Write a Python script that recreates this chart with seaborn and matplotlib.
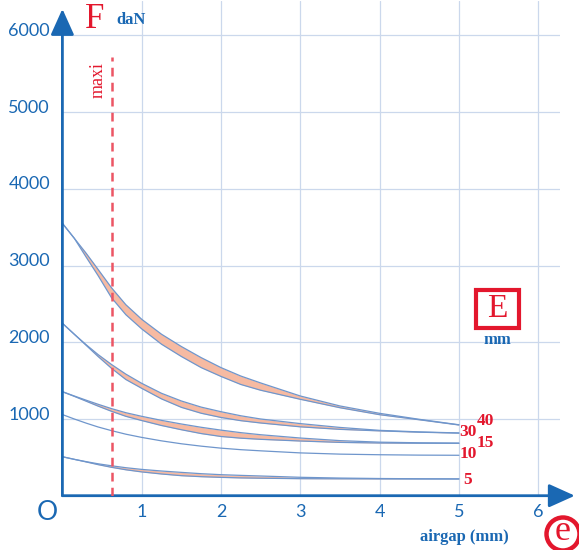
import numpy as np
import pandas as pd
import matplotlib
matplotlib.use("Agg")
import matplotlib.pyplot as plt
import matplotlib.patches as mpatches
from matplotlib.transforms import ScaledTranslation
import seaborn as sns

## datos (fuerza en daN segun el entrehierro en mm)
airgap = [0, 0.15, 0.3, 0.45, 0.62, 0.8, 1, 1.25, 1.5, 1.75, 2, 2.25, 2.5, 3, 3.5, 4, 4.5, 5]

f40_hi = [3551, 3356, 3160, 2950, 2710, 2490, 2300, 2105, 1945, 1800, 1670, 1560, 1470, 1300, 1170, 1074, 996, 925]
f40_lo = [3551, 3356, 3110, 2870, 2580, 2360, 2175, 1975, 1815, 1670, 1555, 1450, 1375, 1257, 1147, 1056, 990, 922]
f30_hi = [2248, 2105, 1968, 1840, 1710, 1585, 1465, 1335, 1235, 1155, 1095, 1042, 1000, 940, 890, 852, 832, 818]
f30_lo = [2248, 2105, 1960, 1815, 1660, 1515, 1400, 1262, 1152, 1075, 1020, 978, 948, 898, 865, 845, 828, 816]
f15_hi = [1356, 1300, 1245, 1192, 1135, 1082, 1035, 982, 935, 892, 855, 822, 795, 752, 718, 698, 690, 686]
f15_lo = [1356, 1295, 1232, 1168, 1100, 1035, 980, 915, 860, 810, 772, 750, 735, 713, 695, 687, 684, 683]
f10 = [1058, 1000, 946, 896, 848, 802, 760, 715, 677, 646, 620, 600, 585, 558, 542, 534, 529, 527]
f5_hi = [508, 474, 444, 416, 390, 365, 343, 322, 304, 287, 274, 265, 257, 240, 230, 224, 221, 219]
f5_lo = [508, 474, 440, 405, 370, 338, 310, 283, 261, 248, 239, 232, 228, 222, 220, 219, 218, 218]

espesores = ["40", "30", "15", "10", "5"]
pos_etiquetas_x = [5.335, 5.12, 5.335, 5.12, 5.11]
pos_etiquetas_y = [980, 824, 693, 550, 210]

y_ticks = [1000, 2000, 3000, 4000, 5000, 6000]
x_ticks = [1, 2, 3, 4, 5, 6]
maxi = 0.62

azul = "#1a68b3"
azul_curva = "#6f96cc"
rojo = "#e3172d"
rojo_maxi = "#ec5564"
grid_col = "#cbd8ec"
relleno = "#f6baa2"

curvas = {"40 hi": f40_hi, "40 lo": f40_lo, "30 hi": f30_hi, "30 lo": f30_lo,
          "15 hi": f15_hi, "15 lo": f15_lo, "10": f10, "5 hi": f5_hi, "5 lo": f5_lo}
df = pd.concat([pd.DataFrame({"airgap": airgap, "force": v, "curva": k}) for k, v in curvas.items()])

sns.set_style("white")
fig = plt.figure(figsize=(5.79, 5.5), dpi=100)
ax = fig.add_axes([62.4 / 579, 54.3 / 550, 6.28 * 79.3 / 579, 6.45 * 76.7 / 550])

ax.set_xlim(0, 6.28)
ax.set_ylim(0, 6450)
ax.set_xticks(x_ticks)
ax.set_yticks(y_ticks)
ax.grid(True, color=grid_col, lw=0.9)
ax.set_axisbelow(True)
for s in ax.spines.values():
    s.set_visible(False)

# bandas rellenas
for hi, lo in [(f40_hi, f40_lo), (f30_hi, f30_lo), (f15_hi, f15_lo), (f5_hi, f5_lo)]:
    ax.fill_between(airgap, lo, hi, color=relleno, lw=0, zorder=2)

sns.lineplot(data=df, x="airgap", y="force", units="curva", estimator=None,
             color=azul_curva, lw=0.9, ax=ax, zorder=3)
ax.set_xlabel("")
ax.set_ylabel("")

# linea maxi
ax.plot([maxi, maxi], [0, 5720], color=rojo_maxi, lw=1.8, ls=(0, (3.5, 2.5)), zorder=4)

# ticks
ax.tick_params(axis="both", direction="inout", length=9, width=1.5, color=rojo,
               labelcolor=azul, labelsize=13)
ax.tick_params(axis="y", pad=4.5)
ax.tick_params(axis="x", pad=1.5)
ax.xaxis.get_major_ticks()[-1].tick1line.set_visible(False)
for lab in ax.get_xticklabels() + ax.get_yticklabels():
    lab.set_family("Lato")
for lab in ax.get_yticklabels():
    lab.set_transform(lab.get_transform() + ScaledTranslation(0, 6 / 100, fig.dpi_scale_trans))

# ejes con flechas
flecha = dict(arrowstyle="-|>,head_length=0.8,head_width=0.36", color=azul, lw=2,
              shrinkA=0, shrinkB=0, mutation_scale=20)
ax.annotate("", xy=(0, 0.984), xytext=(0, 0), xycoords="axes fraction",
            arrowprops=flecha, annotation_clip=False)
ax.annotate("", xy=(1.029, 0), xytext=(0, 0), xycoords="axes fraction",
            arrowprops=flecha, annotation_clip=False)

# etiquetas de espesor
for t, x, y in zip(espesores, pos_etiquetas_x, pos_etiquetas_y):
    ax.text(x, y, t, color=rojo, fontsize=12.5, fontweight="bold", family="Liberation Serif",
            ha="center", va="center", zorder=5)

# textos
def fx(px):
    return px / 579

def fy(py):
    return 1 - py / 550

fig.text(fx(94.5), fy(28), "F", color=rojo, fontsize=25, family="Liberation Serif",
         ha="center", va="baseline")
fig.text(fx(131), fy(24), "daN", color=azul, fontsize=12, fontweight="bold",
         family="Liberation Serif", ha="center", va="baseline")
fig.text(fx(98), fy(80), "maxi", color=rojo, fontsize=13, family="Liberation Serif",
         rotation=90, ha="center", va="center")
fig.text(fx(47.5), fy(512.5), "O", color=azul, fontsize=19, family="Lato",
         ha="center", va="center")
fig.text(fx(464), fy(537), "airgap (mm)", color=azul, fontsize=12, fontweight="bold",
         family="Liberation Serif", ha="center", va="center")

fig.patches.append(mpatches.Rectangle((fx(476), fy(328)), 43 / 579, 38 / 550,
                                      transform=fig.transFigure, fill=False,
                                      edgecolor=rojo, lw=3))
fig.text(fx(497.5), fy(309), "E", color=rojo, fontsize=24, family="Liberation Serif",
         ha="center", va="center")
fig.text(fx(497), fy(340), "mm", color=azul, fontsize=12, fontweight="bold",
         family="Liberation Serif", ha="center", va="center")

fig.patches.append(mpatches.Ellipse((fx(563), fy(534)), 33 / 579, 33 / 550,
                                    transform=fig.transFigure, fill=False,
                                    edgecolor=rojo, lw=3.2))
fig.text(fx(563), fy(531), "e", color=rojo, fontsize=26, family="Liberation Serif",
         ha="center", va="center")

fig.savefig("out.png", dpi=100)
